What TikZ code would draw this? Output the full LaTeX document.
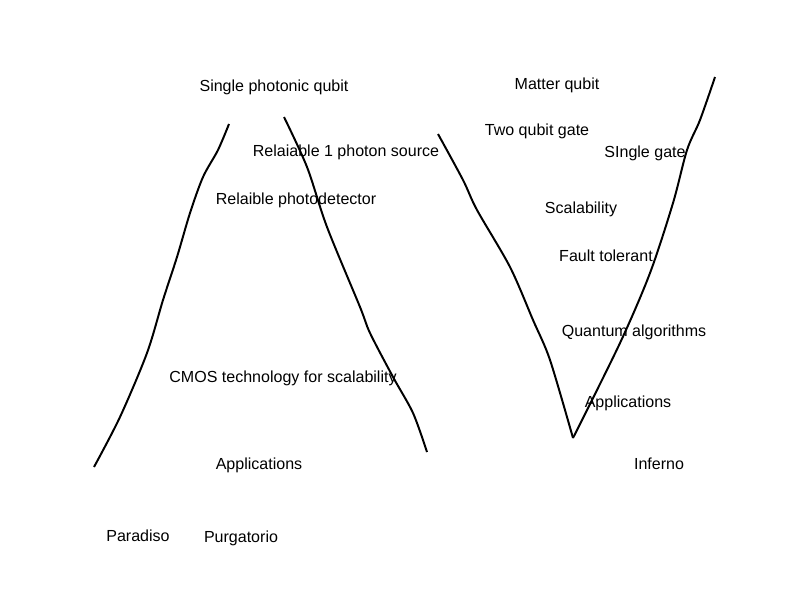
\documentclass[tikz,border=0pt]{standalone}
\usepackage{fontspec}
\setmainfont{Liberation Sans}
\begin{document}
\begin{tikzpicture}[x=0.025cm,y=-0.025cm]
\tikzset{lbl/.style={font=\fontsize{11.4}{13}\selectfont, inner sep=0pt, yshift=-1.5pt}}
\useasboundingbox (0,0) rectangle (800,600);

\draw[line width=1.4pt] plot[smooth] coordinates {(229,124) (218,150) (203,177) (190,213) (177,257) (163,300) (147,353) (120,417) (94,467)};
\draw[line width=1.4pt] plot[smooth] coordinates {(284,117) (307,167) (327,227) (360,307) (370,333) (393,377) (413,413) (427,452)};

\draw[line width=1.4pt] plot[smooth] coordinates {(438,134) (463,180) (477,210) (510,267) (533,320) (550,360) (573,438)};
\draw[line width=1.4pt] plot[smooth] coordinates {(573,438) (620,343) (650,273) (673,203) (687,150) (700,120) (715,77)};

\node[lbl] (photonic) at (274,85) {Single photonic qubit};
\node[lbl] (source) at (346,150) {Relaiable 1 photon source};
\node[lbl] (detector) at (296,198) {Relaible photodetector};
\node[lbl] (cmos) at (283,376) {CMOS technology for scalability};
\node[lbl] (appleft) at (259,463) {Applications};
\node[lbl] (paradiso) at (138,534) {Paradiso};
\node[lbl] (purgatorio) at (241,536) {Purgatorio};

\node[lbl] (matter) at (557,83) {Matter qubit};
\node[lbl] (twogate) at (537,129) {Two qubit gate};
\node[lbl] (onegate) at (645,151) {SIngle gate};
\node[lbl] (scal) at (581,207) {Scalability};
\node[lbl] (fault) at (606,254) {Fault tolerant};
\node[lbl] (algo) at (634,330) {Quantum algorithms};
\node[lbl] (appright) at (628,401) {Applications};
\node[lbl] (inferno) at (659,462) {Inferno};

\end{tikzpicture}
\end{document}
